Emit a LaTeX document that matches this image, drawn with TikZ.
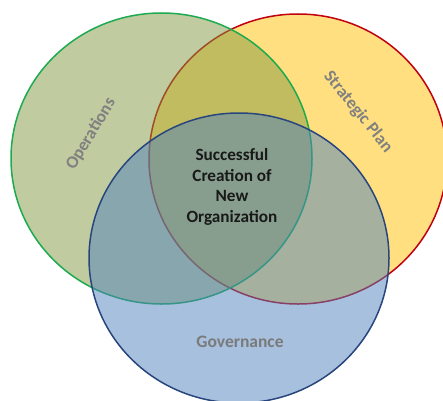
\documentclass[tikz,border=0pt]{standalone}
\usepackage{fontspec}
\setmainfont{Carlito}
\definecolor{gbase}{RGB}{129,153,65}
\definecolor{ybase}{RGB}{255,192,0}
\definecolor{bbase}{RGB}{79,129,189}
\definecolor{gline}{RGB}{30,170,80}
\definecolor{yline}{RGB}{192,0,16}
\definecolor{bline}{RGB}{40,70,125}
\definecolor{lblgray}{RGB}{128,128,128}
\tikzset{
  setshape/.style={line width=1.5pt, fill opacity=0.5},
  lbl/.style={font=\fontsize{17.5}{21}\selectfont\bfseries, text=lblgray, inner sep=0pt},
  centertxt/.style={font=\fontsize{17.2}{20.7}\selectfont\bfseries, text=black!90, align=center, inner sep=0pt}
}
\begin{document}
\begin{tikzpicture}[x=1pt,y=1pt]
\useasboundingbox (0,0) rectangle (443,400);
\begin{scope}
\clip (0,0) rectangle (443,400);
\path[setshape, fill=ybase, draw=yline] (298,241) ellipse [x radius=149, y radius=145];
\path[setshape, fill=gbase, draw=gline] (161.5,241.5) ellipse [x radius=150.5, y radius=145.5];
\path[setshape, fill=bbase, draw=bline] (239,142) ellipse [x radius=150, y radius=145];
\end{scope}
\node[lbl, rotate=59] (ops) at (91,266) {Operations};
\node[lbl, rotate=-51] (strat) at (358,288) {Strategic Plan};
\node[lbl, text=lblgray!95!black] (gov) at (240,58) {Governance};
\node[centertxt] (center) at (232,213) {Successful\\Creation of\\New\\Organization};
\end{tikzpicture}
\end{document}
